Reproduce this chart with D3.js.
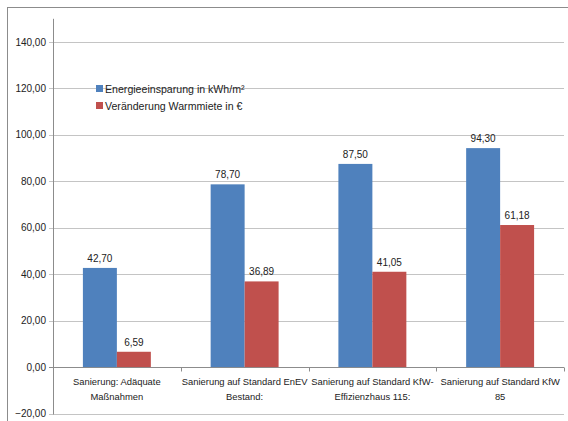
<!DOCTYPE html>
<html>
<head>
<meta charset="utf-8">
<script src="https://cdn.jsdelivr.net/npm/d3@7"></script>
<style>
  html, body { margin: 0; padding: 0; background: #fff; }
  svg text { font-family: "Liberation Sans", Arial, sans-serif; fill: #222; }
</style>
</head>
<body>
<svg id="chart" width="568" height="421"></svg>
<script>
const categories = [
  ["Sanierung: Adäquate", "Maßnahmen"],
  ["Sanierung auf Standard EnEV", "Bestand:"],
  ["Sanierung auf Standard KfW-", "Effizienzhaus 115:"],
  ["Sanierung auf Standard KfW", "85"]
];
const seriesNames = ["Energieeinsparung in kWh/m²", "Veränderung Warmmiete in €"];
const energie = [42.70, 78.70, 87.50, 94.30];
const warmmiete = [6.59, 36.89, 41.05, 61.18];
const yTicks = [-20, 0, 20, 40, 60, 80, 100, 120, 140];
const colors = ["#4f81bd", "#c0504d"];

const svg = d3.select("#chart");
const fmt = v => d3.format(".2f")(v).replace(".", ",");

// outer chart frame
svg.append("rect").attr("x", 7.5).attr("y", 7.5).attr("width", 580).attr("height", 440)
  .attr("fill", "none").attr("stroke", "#8c8c8c").attr("stroke-width", 1);

const left = 53, right = 564;
const y = d3.scaleLinear().domain([-20, 150]).range([413.5, 18.8]);
const x0 = d3.scaleBand().domain(d3.range(categories.length)).range([left, right]).paddingInner(0).paddingOuter(0);
const x1 = d3.scaleBand().domain([0, 1]).range([0, x0.bandwidth()]).paddingInner(0).paddingOuter(0.88);

// horizontal gridlines
svg.append("g").selectAll("line").data(yTicks).join("line")
  .attr("x1", left - 4).attr("x2", right)
  .attr("y1", d => Math.round(y(d)) + 0.5).attr("y2", d => Math.round(y(d)) + 0.5)
  .attr("stroke", d => d === 0 ? "#8c8c8c" : "#c4c4c4").attr("stroke-width", 1);

// y axis line
svg.append("line").attr("x1", left + 0.5).attr("x2", left + 0.5)
  .attr("y1", y(150)).attr("y2", Math.round(y(-20)) + 0.5)
  .attr("stroke", "#8c8c8c");

// y tick labels
svg.append("g").selectAll("text").data(yTicks).join("text")
  .attr("x", left - 7).attr("y", d => y(d) + 3.5)
  .attr("text-anchor", "end").attr("font-size", "10px")
  .text(d => fmt(d));

// category tick marks on the zero line
svg.append("g").selectAll("line").data(d3.range(categories.length + 1)).join("line")
  .attr("x1", i => Math.round(left + i * x0.bandwidth()) + 0.5)
  .attr("x2", i => Math.round(left + i * x0.bandwidth()) + 0.5)
  .attr("y1", Math.round(y(0)) + 0.5).attr("y2", Math.round(y(0)) + 4.5)
  .attr("stroke", "#8c8c8c");

// bars
const rows = categories.map((c, i) => [energie[i], warmmiete[i]]);
const groups = svg.append("g").selectAll("g").data(rows).join("g")
  .attr("transform", (d, i) => `translate(${x0(i)},0)`);

groups.selectAll("rect").data(d => d.map((v, s) => ({ v, s }))).join("rect")
  .attr("x", d => x1(d.s)).attr("width", x1.bandwidth())
  .attr("y", d => y(d.v)).attr("height", d => y(0) - y(d.v))
  .attr("fill", d => colors[d.s]);

groups.selectAll("text").data(d => d.map((v, s) => ({ v, s }))).join("text")
  .attr("x", d => x1(d.s) + x1.bandwidth() / 2)
  .attr("y", d => y(d.v) - 6)
  .attr("text-anchor", "middle").attr("font-size", "10px")
  .text(d => fmt(d.v));

// category labels
svg.append("g").selectAll("text").data(categories).join("text")
  .attr("x", (d, i) => x0(i) + x0.bandwidth() / 2)
  .attr("y", 385)
  .attr("text-anchor", "middle").attr("font-size", "9.4px")
  .selectAll("tspan").data(d => d).join("tspan")
  .attr("x", function() { return d3.select(this.parentNode).attr("x"); })
  .attr("dy", (d, j) => j === 0 ? 0 : 15)
  .text(d => d);

// legend
const legend = svg.append("g").selectAll("g").data(seriesNames).join("g")
  .attr("transform", (d, i) => `translate(96,${85 + i * 17})`);
legend.append("rect").attr("width", 7).attr("height", 7).attr("fill", (d, i) => colors[i]);
legend.append("text").attr("x", 9).attr("y", 7.5).attr("font-size", "10.6px").text(d => d);
</script>
</body>
</html>
